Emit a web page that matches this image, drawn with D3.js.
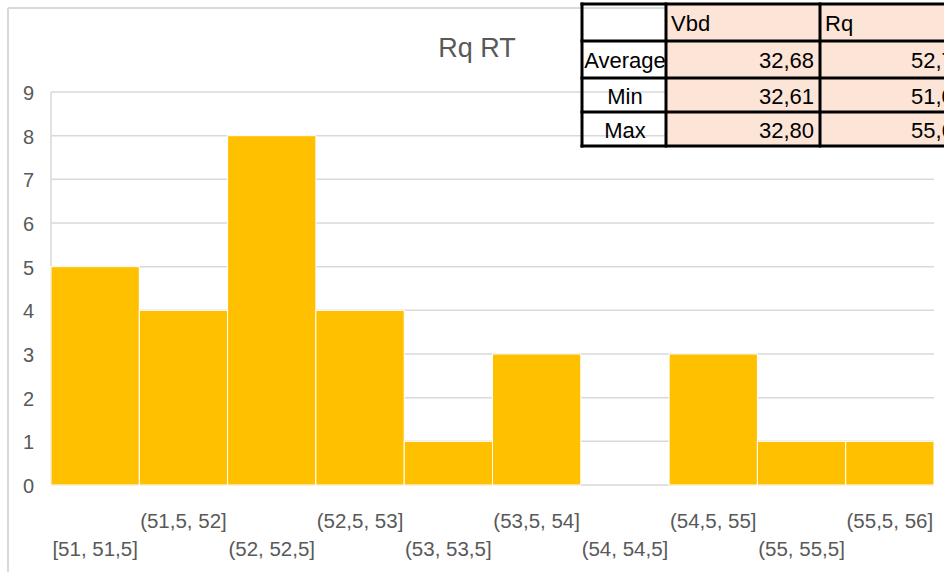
<!DOCTYPE html>
<html>
<head>
<meta charset="utf-8">
<script src="https://cdn.jsdelivr.net/npm/d3@7"></script>
<style>
  html, body { margin: 0; padding: 0; background: #fff; }
  svg { display: block; font-family: "Liberation Sans", Arial, sans-serif; }
</style>
</head>
<body>
<svg id="chart" width="944" height="572"></svg>
<script>
const title = "Rq RT";
const binLabels = ["[51, 51,5]", "(51,5, 52]", "(52, 52,5]", "(52,5, 53]", "(53, 53,5]",
                   "(53,5, 54]", "(54, 54,5]", "(54,5, 55]", "(55, 55,5]", "(55,5, 56]"];
const counts = [5, 4, 8, 4, 1, 3, 0, 3, 1, 1];
const yTicks = [0, 1, 2, 3, 4, 5, 6, 7, 8, 9];

const tableHeader = ["", "Vbd", "Rq"];
const rowLabels = ["Average", "Min", "Max"];
const vbdValues = ["32,68", "32,61", "32,80"];
const rqValues = ["52,74", "51,05", "55,65"];

const svg = d3.select("#chart");
const grey = "#595959";
const gridCol = "#d9d9d9";

// chart border
svg.append("line").attr("x1", 8).attr("x2", 8).attr("y1", 8).attr("y2", 572)
  .attr("stroke", gridCol).attr("stroke-width", 2);
svg.append("line").attr("x1", 8).attr("x2", 944).attr("y1", 8).attr("y2", 8)
  .attr("stroke", gridCol).attr("stroke-width", 2);

const x = d3.scaleBand().domain(binLabels).range([51, 934]).padding(0);
const y = d3.scaleLinear().domain([0, 9]).range([485, 92]);

// gridlines
svg.append("g").selectAll("line").data(yTicks).join("line")
  .attr("x1", 51).attr("x2", 934)
  .attr("y1", d => y(d)).attr("y2", d => y(d))
  .attr("stroke", gridCol).attr("stroke-width", 1.5);
svg.append("line").attr("x1", 51).attr("x2", 51).attr("y1", y(9)).attr("y2", y(0))
  .attr("stroke", gridCol).attr("stroke-width", 1.5);

// bars
svg.append("g").selectAll("rect").data(counts).join("rect")
  .attr("x", (d, i) => x(binLabels[i]))
  .attr("width", x.bandwidth())
  .attr("y", d => y(d))
  .attr("height", d => y(0) - y(d))
  .attr("fill", "#FFC000")
  .attr("stroke", "#fff").attr("stroke-width", d => d > 0 ? 1 : 0);

// y labels
svg.append("g").selectAll("text").data(yTicks).join("text")
  .attr("x", 34).attr("y", d => y(d) + 1)
  .attr("text-anchor", "end").attr("dominant-baseline", "central")
  .attr("font-size", 20).attr("fill", grey).text(d => d);

// x labels (staggered)
svg.append("g").selectAll("text").data(binLabels).join("text")
  .attr("x", d => x(d) + x.bandwidth() / 2)
  .attr("y", (d, i) => i % 2 === 0 ? 548 : 520)
  .attr("text-anchor", "middle").attr("dominant-baseline", "central")
  .attr("font-size", 20.5).attr("fill", grey).text(d => d);

// title
svg.append("text").attr("x", 477).attr("y", 48)
  .attr("text-anchor", "middle").attr("dominant-baseline", "central")
  .attr("font-size", 27).attr("fill", grey).text(title);

// table
const colX = [582, 666, 820, 972];
const rowY = [4, 41, 78, 112, 146];
const tbl = svg.append("g");
const rows = [tableHeader].concat(rowLabels.map((r, i) => [r, vbdValues[i], rqValues[i]]));
rows.forEach((row, ri) => {
  row.forEach((cell, ci) => {
    if (ci > 0) {
      tbl.append("rect").attr("x", colX[ci]).attr("y", rowY[ri])
        .attr("width", colX[ci + 1] - colX[ci]).attr("height", rowY[ri + 1] - rowY[ri])
        .attr("fill", "#FCE4D6");
    }
    const cy = (rowY[ri] + rowY[ri + 1]) / 2 + 1;
    let tx, anchor;
    if (ci === 0) { tx = (colX[0] + colX[1]) / 2 + 1; anchor = "middle"; }
    else if (ri === 0) { tx = colX[ci] + 5; anchor = "start"; }
    else { tx = colX[ci + 1] - 6; anchor = "end"; }
    tbl.append("text").attr("x", tx).attr("y", cy)
      .attr("text-anchor", anchor).attr("dominant-baseline", "central")
      .attr("font-size", 22).attr("fill", "#000").text(cell);
  });
});
// table borders
rowY.forEach(yy => tbl.append("line").attr("x1", colX[0] - 1.5).attr("x2", 944)
  .attr("y1", yy).attr("y2", yy).attr("stroke", "#000").attr("stroke-width", 3));
colX.slice(0, 3).forEach(xx => tbl.append("line").attr("x1", xx).attr("x2", xx)
  .attr("y1", rowY[0] - 1.5).attr("y2", rowY[4] + 1.5).attr("stroke", "#000").attr("stroke-width", 3));
</script>
</body>
</html>
